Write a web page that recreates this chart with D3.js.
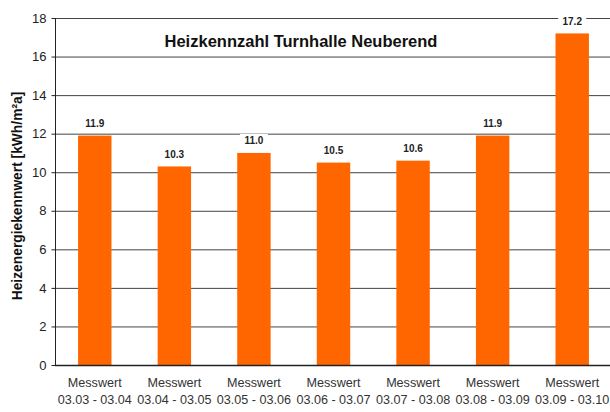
<!DOCTYPE html>
<html><head><meta charset="utf-8">
<script src="https://cdn.jsdelivr.net/npm/d3@7"></script>
<style>body{margin:0;background:#fff}svg{display:block}text{font-family:"Liberation Sans",Arial,sans-serif}</style>
</head><body><svg id="c" width="610" height="412"></svg>
<script>
const categories = ["03.03 - 03.04","03.04 - 03.05","03.05 - 03.06","03.06 - 03.07","03.07 - 03.08","03.08 - 03.09","03.09 - 03.10"];
const values = [11.9, 10.3, 11.0, 10.5, 10.6, 11.9, 17.2];
const yTicks = [0,2,4,6,8,10,12,14,16,18];
const title = "Heizkennzahl Turnhalle Neuberend";
const yTitle = "Heizenergiekennwert [kWh/m²a]";
const catPrefix = "Messwert";

const svg = d3.select("#c");
const m = {l:55, t:18, r:612, b:365};
const x = d3.scaleBand().domain(categories).range([m.l, m.r]).paddingInner(0.58).paddingOuter(0.29);
const y = d3.scaleLinear().domain([0,18]).range([m.b, m.t]);

// gridlines
svg.append("g").selectAll("line").data(yTicks.filter(d=>d>0)).join("line")
  .attr("x1", m.l).attr("x2", 610).attr("y1", d=>y(d)+0.5).attr("y2", d=>y(d)+0.5)
  .attr("stroke", "#444").attr("stroke-width", 1);

// bars
svg.append("g").selectAll("rect").data(values).join("rect")
  .attr("x", (d,i)=>x(categories[i])).attr("width", x.bandwidth())
  .attr("y", d=>y(d)).attr("height", d=>y(0)-y(d)).attr("fill", "#FF6600");

// value labels with white background
const lg = svg.append("g").selectAll("g").data(values).join("g")
  .attr("transform", (d,i)=>`translate(${x(categories[i])+x.bandwidth()/2},${y(d)-12})`);
lg.append("rect").attr("x",-14).attr("y",-7).attr("width",28).attr("height",13).attr("fill","#fff");
lg.append("text").attr("text-anchor","middle").attr("dy","0.35em")
  .attr("font-size", 10).attr("font-weight","bold").attr("fill","#222")
  .text(d=>d.toFixed(1));

// y axis
const ya = svg.append("g").attr("transform", `translate(${m.l+0.5},0)`)
  .call(d3.axisLeft(y).tickValues(yTicks).tickSize(4).tickPadding(5).tickFormat(d3.format("d")));
ya.select(".domain").attr("d", `M0,${y(18)}V${y(0)}`).attr("stroke","#222");
ya.selectAll(".tick line").attr("stroke","#222");
ya.selectAll("text").attr("font-size", 13).attr("fill","#222").attr("font-family","Liberation Sans, Arial, sans-serif");

// x axis line
svg.append("line").attr("x1", m.l).attr("x2", 610).attr("y1", y(0)+0.5).attr("y2", y(0)+0.5)
  .attr("stroke","#222").attr("stroke-width",1.5);

// x labels
const xl = svg.append("g").selectAll("text").data(categories).join("text")
  .attr("x", d=>x(d)+x.bandwidth()/2).attr("text-anchor","middle")
  .attr("font-size", 12.6).attr("fill","#333");
xl.append("tspan").attr("x", d=>x(d)+x.bandwidth()/2).attr("y", 387).text(catPrefix);
xl.append("tspan").attr("x", d=>x(d)+x.bandwidth()/2).attr("y", 404).text(d=>d);

// title
svg.append("text").attr("x", 301).attr("y", 47).attr("text-anchor","middle")
  .attr("font-size", 16.5).attr("font-weight","bold").attr("fill","#111").text(title);

// y title
svg.append("text").attr("transform", `translate(22,196) rotate(-90)`).attr("text-anchor","middle")
  .attr("font-size", 13.8).attr("font-weight","bold").attr("fill","#111").text(yTitle);
</script></body></html>
